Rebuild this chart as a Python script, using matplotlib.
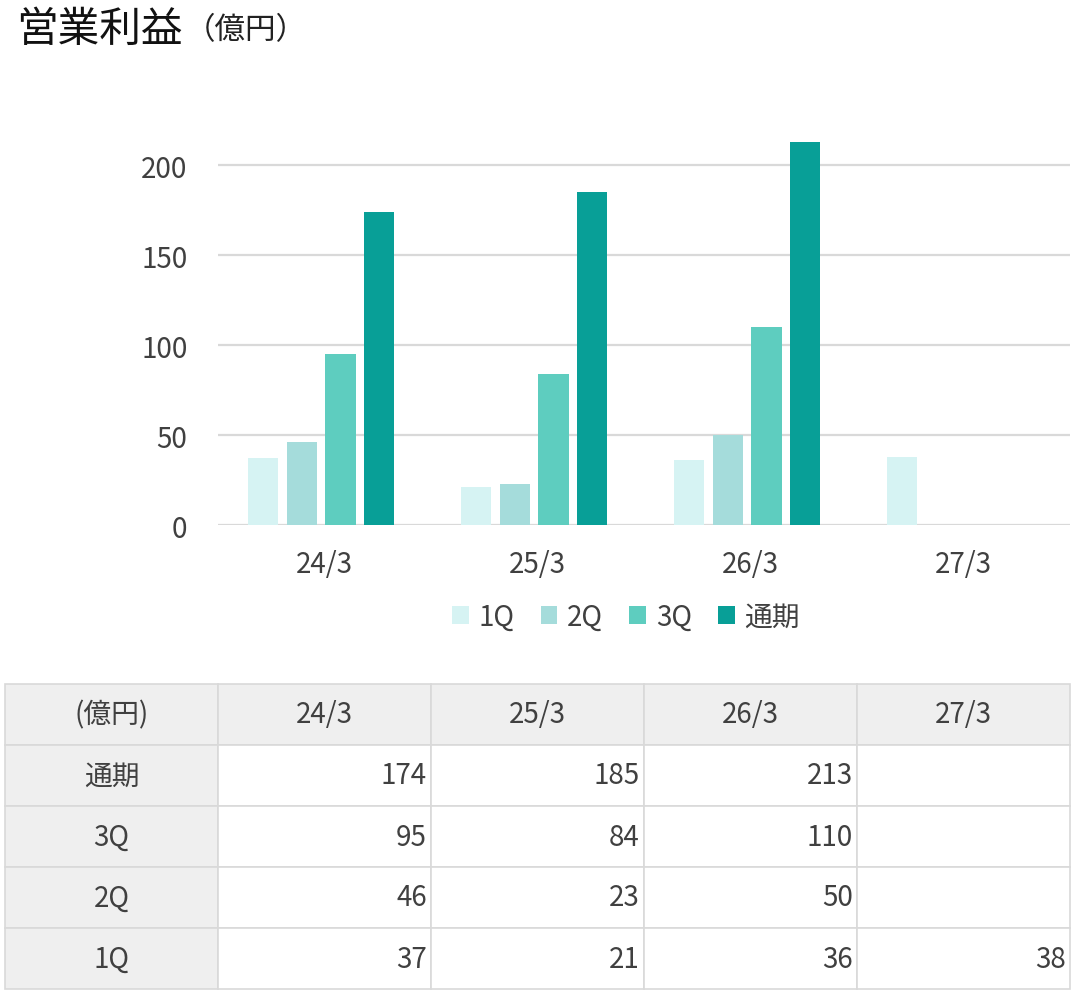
import numpy as np
import matplotlib.pyplot as plt
from matplotlib.patches import Patch, Rectangle

plt.rcParams['font.family'] = ['Noto Sans CJK JP', 'DejaVu Sans']

# data
years = ['24/3', '25/3', '26/3', '27/3']
series = ['1Q', '2Q', '3Q', '通期']
q1 = [37, 21, 36, 38]
q2 = [46, 23, 50, None]
q3 = [95, 84, 110, None]
full = [174, 185, 213, None]
colors = ['#d6f3f3', '#a5dcdb', '#5ecdbf', '#089f97']
unit = '（億円）'
title = '営業利益'

text_col = '#404040'
grid_col = '#d9d9d9'
fs = 20

W, H = 1075, 995
fig = plt.figure(figsize=(W / 100, H / 100), dpi=100)

def fx(px):
    return px / W

def fy(py):
    return 1 - py / H

# title
fig.text(fx(16), fy(30), title, fontsize=30, color='#111111', va='center', ha='left')
fig.text(fx(185), fy(31), unit, fontsize=22, color='#222222', va='center', ha='left')

# chart
ax = fig.add_axes([fx(218), fy(526), fx(1070) - fx(218), fy(130) - fy(526)])
x = np.arange(len(years))
step = 0.182
width = 0.142
shift = -0.016
all_vals = [q1, q2, q3, full]
for i, (vals, c) in enumerate(zip(all_vals, colors)):
    xs = [xi + (i - 1.5) * step + shift for xi, v in zip(x, vals) if v is not None]
    vs = [v for v in vals if v is not None]
    ax.bar(xs, vs, width=width, color=c, zorder=3)

ax.set_xlim(-0.5, len(years) - 0.5)
ax.set_ylim(0, 220)
ax.set_yticks([0, 50, 100, 150, 200])
ax.yaxis.grid(True, color=grid_col, linewidth=1.6, zorder=0)
ax.set_axisbelow(True)
for s in ax.spines.values():
    s.set_visible(False)
ax.set_xticks(x)
ax.set_xticklabels(years)
ax.tick_params(axis='both', length=0, labelsize=fs, labelcolor=text_col)
ax.tick_params(axis='y', pad=22)
ax.tick_params(axis='x', pad=17)

handles = [Patch(facecolor=c, edgecolor='none') for c in colors]
fig.legend(handles, series, loc='center', bbox_to_anchor=(fx(626), fy(618)),
           ncol=4, frameon=False, fontsize=fs, labelcolor=text_col,
           handlelength=0.6, handleheight=0.6, handletextpad=0.35,
           columnspacing=0.95)

# table
tax = fig.add_axes([0, 0, 1, 1])
tax.set_xlim(0, W)
tax.set_ylim(H, 0)
tax.axis('off')

col0 = 5
col_w = 213
row0 = 685
row_h = 61
n_cols = len(years) + 1
rows = [('通期', full), ('3Q', q3), ('2Q', q2), ('1Q', q1)]
n_rows = len(rows) + 1

for r in range(n_rows):
    for c in range(n_cols):
        x0 = col0 + c * col_w
        y0 = row0 + r * row_h
        fc = '#efefef' if (r == 0 or c == 0) else 'white'
        tax.add_patch(Rectangle((x0, y0), col_w, row_h, facecolor=fc,
                                edgecolor=grid_col, linewidth=1.2))

tax.text(col0 + col_w / 2, row0 + row_h / 2, unit.replace('（', '(').replace('）', ')'),
         ha='center', va='center', fontsize=fs, color=text_col)
for c, yr in enumerate(years, start=1):
    tax.text(col0 + c * col_w + col_w / 2, row0 + row_h / 2, yr,
             ha='center', va='center', fontsize=fs, color=text_col)
for r, (name, vals) in enumerate(rows, start=1):
    yc = row0 + r * row_h + row_h / 2
    tax.text(col0 + col_w / 2, yc, name, ha='center', va='center',
             fontsize=fs, color=text_col)
    for c, v in enumerate(vals, start=1):
        if v is None:
            continue
        tax.text(col0 + (c + 1) * col_w - 4, yc, str(v), ha='right', va='center',
                 fontsize=fs, color=text_col)

fig.savefig('out.png', dpi=100, facecolor='white')
